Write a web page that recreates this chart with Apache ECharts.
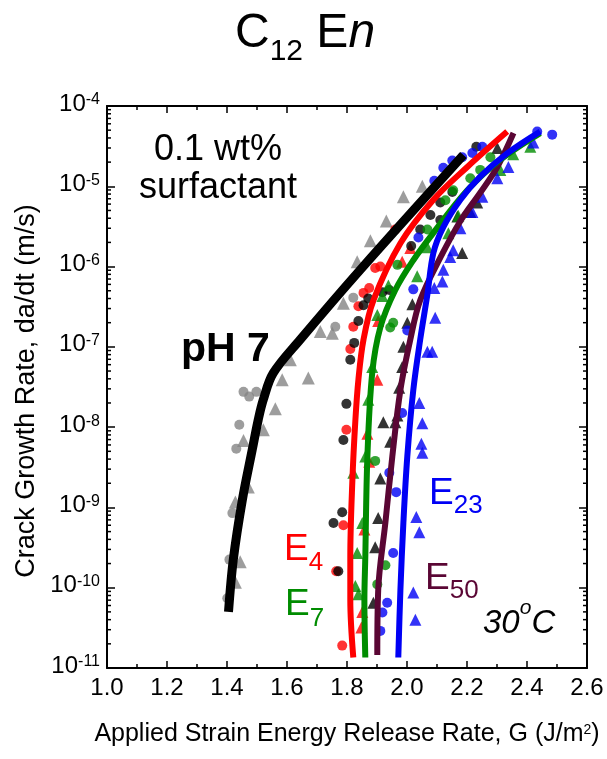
<!DOCTYPE html>
<html><head><meta charset="utf-8">
<script src="https://cdn.jsdelivr.net/npm/echarts@6/dist/echarts.min.js"></script>
<style>html,body{margin:0;padding:0;background:#fff}#c{width:607px;height:759px}</style>
</head><body><div id="c"></div>
<script>
// ---------- data (G in J/m^2, da/dt in m/s) ----------
const xTickValues = [1.0, 1.2, 1.4, 1.6, 1.8, 2.0, 2.2, 2.4, 2.6];
const yDecades = [-11, -10, -9, -8, -7, -6, -5, -4];

const linePH7 = [[1.405,5.0e-11],[1.421,2.24e-10],[1.451,1.23e-9],[1.484,5.2e-9],[1.504,1.23e-8],[1.521,2.2e-8],[1.554,4.7e-8],[1.644,1.23e-7],[1.844,9.1e-7],[2.188,2.45e-5]];
const lineE4 = [[1.821,1.35e-11],[1.811,7.1e-11],[1.811,2.4e-10],[1.818,2.2e-9],[1.828,1.23e-8],[1.838,3.9e-8],[1.855,1.23e-7],[1.888,3.8e-7],[1.978,1.95e-6],[2.088,6.8e-6],[2.201,1.74e-5],[2.334,4.8e-5]];
const lineE7 = [[1.861,1.35e-11],[1.858,7.1e-11],[1.861,2.4e-10],[1.868,4.3e-9],[1.884,4.7e-8],[1.911,1.74e-7],[1.961,5.1e-7],[2.021,1.2e-6],[2.088,2.63e-6],[2.201,8.9e-6],[2.311,2.14e-5],[2.444,4.6e-5]];
const lineE50 = [[1.901,1.45e-11],[1.904,9.3e-11],[1.928,6.5e-10],[1.951,4.3e-9],[1.978,2.9e-8],[2.011,1.23e-7],[2.044,3.8e-7],[2.111,1.29e-6],[2.178,3.7e-6],[2.244,8.3e-6],[2.301,1.74e-5],[2.355,4.6e-5]];
const lineE23 = [[1.971,1.35e-11],[1.978,9.3e-11],[1.988,6.5e-10],[2.001,4.3e-9],[2.021,2.9e-8],[2.044,1.23e-7],[2.068,4.5e-7],[2.088,1.48e-6],[2.121,3.1e-6],[2.178,6.8e-6],[2.244,1.32e-5],[2.334,2.57e-5],[2.444,4.8e-5]];

const grayCircles = [[1.821,4.1e-7],[1.761,1.78e-7],[1.455,2.75e-8],[1.474,2.4e-8],[1.498,2.75e-8],[1.441,1.07e-8],[1.431,5.4e-9],[1.418,8.5e-10],[1.408,2.24e-10],[1.401,7.4e-11]];
const grayTriangles = [[2.051,1.0e-5],[1.988,7.4e-6],[1.931,3.7e-6],[1.878,2.1e-6],[1.834,1.15e-6],[1.788,3.5e-7],[1.751,1.48e-7],[1.711,1.55e-7],[1.671,4.1e-8],[1.611,6.9e-8],[1.584,3.9e-8],[1.561,1.7e-8],[1.521,9.3e-9],[1.455,6.8e-9],[1.471,1.8e-9],[1.428,1.17e-9],[1.444,2.1e-10],[1.428,1.17e-10]];
const redCircles = [[1.911,1.0e-6],[1.894,9.6e-7],[1.874,5.4e-7],[1.855,4.7e-7],[1.838,3.2e-7],[1.821,1.78e-7],[1.811,9.4e-8],[1.798,9.3e-9],[1.788,6.0e-10],[1.764,1.6e-10],[1.784,1.9e-11],[1.961,2.9e-6]];
const redTriangles = [[1.984,1.15e-6],[2.011,1.7e-6],[1.904,2.1e-7],[1.901,3.9e-8],[1.868,8.3e-9],[1.874,3.7e-9],[1.858,5.3e-10],[1.851,5.0e-11],[1.848,3.2e-11]];
const blackCircles = [[2.231,3.1e-5],[2.151,8.5e-6],[2.111,6.3e-6],[2.111,3.8e-6],[2.078,4.4e-6],[2.044,2.9e-6],[2.014,1.8e-6],[1.941,5.1e-7],[1.918,4.8e-7],[1.871,4.0e-7],[1.855,3.3e-7],[1.838,2.1e-7],[1.824,1.12e-7],[1.811,6.9e-8],[1.798,1.95e-8],[1.788,6.9e-9],[1.784,8.7e-10],[1.755,6.4e-10],[1.771,1.6e-10]];
const blackTriangles = [[2.301,3.0e-5],[2.234,6.3e-6],[2.211,4.8e-6],[2.168,4.2e-6],[2.184,1.48e-6],[2.018,3.4e-7],[2.001,2.0e-7],[1.988,1.0e-7],[1.984,5.6e-8],[1.974,3.1e-8],[1.921,1.15e-8],[1.961,1.15e-8],[1.968,1.4e-8],[1.944,6.6e-9],[1.911,2.3e-9],[1.904,7.4e-10],[1.894,3.2e-10],[1.888,6.5e-11]];
const greenCircles = [[2.278,2.3e-5],[2.244,1.6e-5],[2.211,1.26e-5],[2.154,8.9e-6],[2.128,6.7e-6],[2.068,2.9e-6],[1.968,1.05e-6],[1.954,2.0e-7],[1.944,1.74e-7],[1.894,3.8e-9],[1.928,1.9e-10],[1.901,1.1e-10]];
const greenTriangles = [[2.411,3.1e-5],[2.354,2.5e-5],[2.311,1.6e-5],[2.171,4.3e-6],[2.138,2.6e-6],[2.068,1.74e-6],[2.034,7.6e-7],[1.938,5.8e-7],[1.918,4.3e-7],[1.901,2.5e-7],[1.884,5.6e-8],[1.871,2.2e-8],[1.861,4.3e-9],[1.821,2.7e-9],[1.851,6.4e-10],[1.834,2.7e-10],[1.828,1.05e-10],[1.838,8.3e-11]];
const blueCircles = [[2.484,4.4e-5],[2.434,4.8e-5],[2.251,3.1e-5],[2.218,2.6e-5],[2.184,2.3e-5],[2.151,2.1e-5],[2.121,1.7e-5],[2.091,1.17e-5],[2.038,2.3e-6],[2.021,5.2e-7],[2.001,1.6e-7],[1.984,1.5e-8],[1.941,2.7e-9],[1.964,1.55e-9],[1.954,2.7e-10],[1.934,6.5e-11],[1.918,4.9e-11],[1.911,2.9e-11]];
const blueTriangles = [[2.421,3.5e-5],[2.338,1.74e-5],[2.301,1.26e-5],[2.251,7.4e-6],[2.218,4.8e-6],[2.178,3.0e-6],[2.154,1.6e-6],[2.144,1.32e-6],[2.121,9.1e-7],[2.118,6.5e-7],[2.091,5.4e-7],[2.094,2.3e-7],[2.068,8.7e-8],[2.084,8.7e-8],[2.041,2.0e-8],[2.051,1.12e-8],[2.048,6.2e-9],[2.051,4.8e-9],[2.031,7.6e-10],[2.041,4.9e-10],[2.021,8.7e-11],[2.028,4.0e-11]];

// ---------- styling ----------
const FONT = 'Liberation Sans, Arial, Helvetica, sans-serif';
const C_RED = '#ff0000', C_GREEN = '#008c00', C_BLUE = '#0000f5', C_MAROON = '#5a0634', C_GRAY = '#858585';

// minor log ticks (2..9 x each decade) - axis decoration only
const minorTicks = [];
for (let i = 0; i < yDecades.length - 1; i++) {
  for (let m = 2; m <= 9; m++) minorTicks.push([xTickValues[0], m * Math.pow(10, yDecades[i])]);
}

// text pieces placed one after another, each on its own baseline
const measureCtx = document.createElement('canvas').getContext('2d');
function fontStr(t) {
  return (t.italic ? 'italic ' : '') + (t.bold ? 'bold ' : '') + t.fs + 'px ' + FONT;
}
function textRun(x, align, tokens) {
  const widths = tokens.map(t => { measureCtx.font = fontStr(t); return measureCtx.measureText(t.text).width; });
  const total = widths.reduce((a, b) => a + b, 0);
  let cx = align === 'center' ? x - total / 2 : (align === 'right' ? x - total : x);
  return tokens.map((t, i) => {
    const el = { type: 'text', x: cx, y: t.base - 0.3465 * t.fs, silent: true, z: 100,
      style: { text: t.text, fontSize: t.fs, fontFamily: FONT,
        fontStyle: t.italic ? 'italic' : 'normal', fontWeight: t.bold ? 'bold' : 'normal',
        fill: t.color || '#000', align: 'left', verticalAlign: 'middle' } };
    cx += widths[i];
    return el;
  });
}

function scatter(data, symbol, size, color) {
  return { type: 'scatter', data: data, symbol: symbol, symbolSize: size, z: 2,
    itemStyle: { color: color }, silent: true };
}
function curve(data, color, width, z) {
  return { type: 'line', data: data, showSymbol: false, smooth: 0.35, z: z, silent: true,
    lineStyle: { color: color, width: width, cap: 'butt' }, itemStyle: { color: color } };
}

const xAxisBase = {
  type: 'value', min: xTickValues[0], max: xTickValues[xTickValues.length - 1], interval: 0.2,
  axisLine: { show: true, onZero: false, lineStyle: { color: '#000', width: 2 } },
  axisTick: { show: true, inside: true, length: 7, lineStyle: { color: '#000', width: 1.5 } },
  minorTick: { show: true, splitNumber: 2, length: 4, lineStyle: { color: '#000', width: 1.5 } },
  splitLine: { show: false }, minorSplitLine: { show: false }
};
const yAxisBase = {
  type: 'log', logBase: 10, min: Math.pow(10, yDecades[0]), max: Math.pow(10, yDecades[yDecades.length - 1]),
  splitNumber: 7,
  axisLine: { show: true, onZero: false, lineStyle: { color: '#000', width: 2 } },
  axisTick: { show: true, inside: true, length: 8, lineStyle: { color: '#000', width: 1.5 } },
  splitLine: { show: false }
};

const graphics = [].concat(
  textRun(235, 'left', [
    { text: 'C', fs: 48, base: 50 }, { text: '12', fs: 30, base: 62 },
    { text: ' E', fs: 48, base: 50 }, { text: 'n', fs: 48, base: 50, italic: true }]),
  textRun(218, 'center', [{ text: '0.1 wt%', fs: 36, base: 163 }]),
  textRun(218, 'center', [{ text: 'surfactant', fs: 36, base: 201 }]),
  textRun(181, 'left', [{ text: 'pH 7', fs: 41, base: 364, bold: true }]),
  textRun(284, 'left', [{ text: 'E', fs: 37, base: 563, color: C_RED }, { text: '4', fs: 26, base: 572, color: C_RED }]),
  textRun(285, 'left', [{ text: 'E', fs: 37, base: 618, color: C_GREEN }, { text: '7', fs: 26, base: 628, color: C_GREEN }]),
  textRun(429, 'left', [{ text: 'E', fs: 37, base: 507, color: C_BLUE }, { text: '23', fs: 26, base: 515, color: C_BLUE }]),
  textRun(425, 'left', [{ text: 'E', fs: 37, base: 592, color: C_MAROON }, { text: '50', fs: 26, base: 600, color: C_MAROON }]),
  textRun(483, 'left', [{ text: '30', fs: 33, base: 635, italic: true }, { text: 'o', fs: 21, base: 615, italic: true }, { text: 'C', fs: 33, base: 635, italic: true }]),
  textRun(347, 'center', [{ text: 'Applied Strain Energy Release Rate, G (J/m', fs: 25, base: 743 }, { text: '2', fs: 14, base: 735 }, { text: ')', fs: 25, base: 743 }]),
  [{ type: 'text', x: 27, y: 391, rotation: Math.PI / 2, silent: true, z: 100,
    style: { text: 'Crack Growth Rate, da/dt (m/s)', fontSize: 27, fontFamily: FONT, fill: '#000', align: 'center', verticalAlign: 'middle' } }]
);

const option = {
  animation: false,
  backgroundColor: '#fff',
  grid: { left: 107, right: 20, top: 106, bottom: 91, containLabel: false },
  xAxis: [
    Object.assign({}, xAxisBase, { position: 'bottom',
      axisLabel: { show: true, fontSize: 24, fontFamily: FONT, color: '#000', margin: 8,
        showMinLabel: true, showMaxLabel: true, formatter: v => v.toFixed(1) } }),
    Object.assign({}, xAxisBase, { position: 'top', axisLabel: { show: false } })
  ],
  yAxis: [
    Object.assign({}, yAxisBase, { position: 'left',
      axisLabel: { show: true, margin: 7, color: '#000', showMinLabel: true, showMaxLabel: true,
        formatter: v => '{b|10}{s|' + Math.round(Math.log10(v)) + '}',
        rich: {
          b: { fontSize: 24, fontFamily: FONT, color: '#000', lineHeight: 28, verticalAlign: 'top' },
          s: { fontSize: 16, fontFamily: FONT, color: '#000', lineHeight: 15, verticalAlign: 'top' }
        } } }),
    Object.assign({}, yAxisBase, { position: 'right', axisLabel: { show: false } })
  ],
  series: [
    scatter(grayCircles, 'circle', 10, C_GRAY),
    scatter(grayTriangles, 'triangle', 13, C_GRAY),
    scatter(redCircles, 'circle', 10, C_RED),
    scatter(redTriangles, 'triangle', 12, C_RED),
    scatter(blackCircles, 'circle', 10, '#000'),
    scatter(blackTriangles, 'triangle', 12, '#000'),
    scatter(greenCircles, 'circle', 10, C_GREEN),
    scatter(greenTriangles, 'triangle', 12, C_GREEN),
    scatter(blueCircles, 'circle', 10, C_BLUE),
    scatter(blueTriangles, 'triangle', 12, C_BLUE),
    curve(linePH7, '#000', 9, 5),
    curve(lineE50, C_MAROON, 6, 6),
    curve(lineE4, C_RED, 6, 7),
    curve(lineE7, C_GREEN, 6, 8),
    curve(lineE23, C_BLUE, 6, 9),
    { type: 'custom', data: minorTicks, encode: { x: 0, y: 1 }, silent: true, z: 20, clip: false,
      renderItem: (params, api) => {
        const v = api.value(1);
        const pL = api.coord([xTickValues[0], v]);
        const pR = api.coord([xTickValues[xTickValues.length - 1], v]);
        const st = { stroke: '#000', lineWidth: 1.5 };
        return { type: 'group', children: [
          { type: 'line', shape: { x1: pL[0], y1: pL[1], x2: pL[0] + 4, y2: pL[1] }, style: st },
          { type: 'line', shape: { x1: pR[0] - 4, y1: pR[1], x2: pR[0], y2: pR[1] }, style: st }
        ] };
      } }
  ],
  graphic: graphics
};

const chart = echarts.init(document.getElementById('c'), null, { renderer: 'canvas' });
chart.setOption(option);
</script>
</body></html>
